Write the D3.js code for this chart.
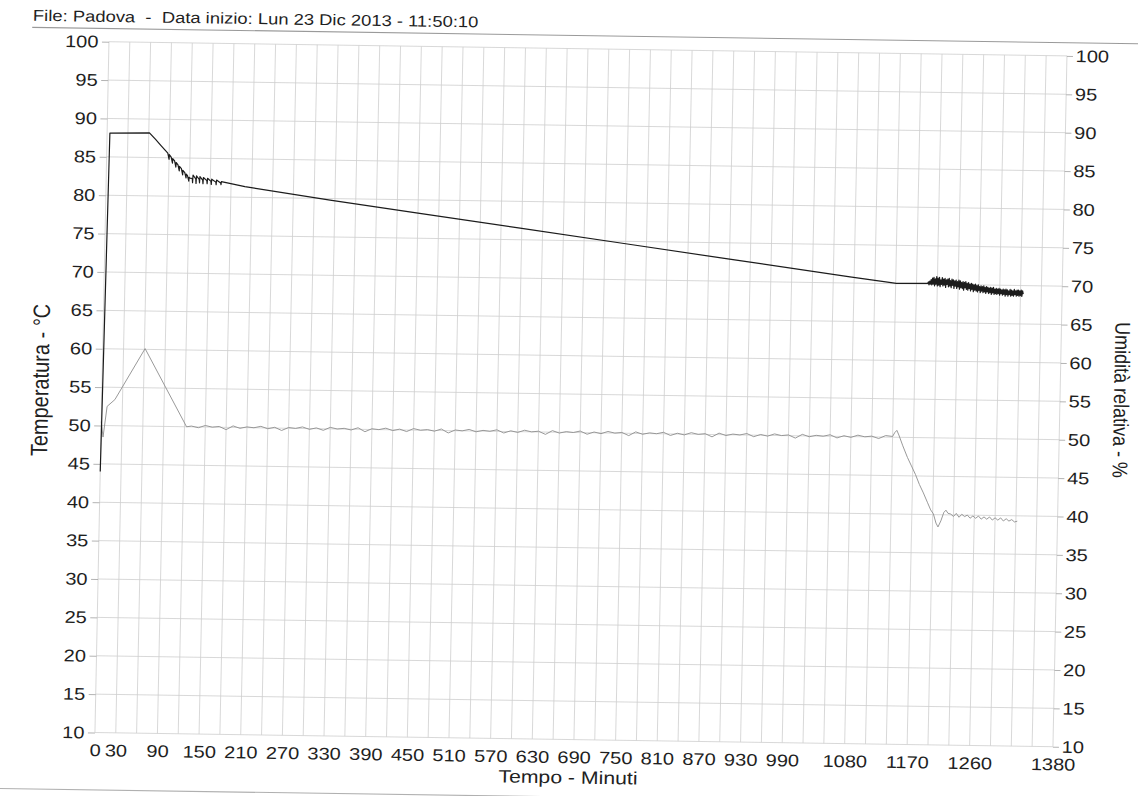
<!DOCTYPE html>
<html>
<head>
<meta charset="utf-8">
<script src="https://cdn.jsdelivr.net/npm/d3@7"></script>
<style>
  body { margin: 0; background: #ffffff; }
  svg { display: block; }
  text { font-family: "Liberation Sans", Arial, Helvetica, sans-serif; fill: #1f1f1f; }
</style>
</head>
<body>
<svg id="chart" width="1138" height="796"></svg>
<script>
// ---- Logger data: Padova, 23 Dec 2013 ----
const chartTitle = "File: Padova  -  Data inizio: Lun 23 Dic 2013 - 11:50:10";
const xTitle = "Tempo - Minuti";
const yLeftTitle = "Temperatura - °C";
const yRightTitle = "Umidità relativa - %";

const xTickValues = [0, 30, 90, 150, 210, 270, 330, 390, 450, 510, 570, 630, 690, 750, 810, 870, 930, 990, 1080, 1170, 1260, 1380];
const yTickValues = [10, 15, 20, 25, 30, 35, 40, 45, 50, 55, 60, 65, 70, 75, 80, 85, 90, 95, 100];

// Temperature (°C): start-up, plateau, cooling ramp and long decline
const tempMinutes = [0, 4, 61, 70, 78, 84, 88, 90, 90.2, 93, 95, 95.2, 98, 100, 100.2, 103, 105, 105.2, 108, 110, 110.2, 113, 115, 115.2, 117, 119, 119.2, 120.5,
  124, 124.5, 125, 129, 129.5, 130, 134, 134.5, 135, 139, 139.5, 140, 145, 145.5, 146, 151, 151.5, 152, 158, 158.5, 159, 165, 165.5, 166,
  200, 323, 450, 600, 750, 900, 1074, 1141, 1185];
const tempValues = [44.0, 88.1, 88.2, 87.37, 86.58, 85.99, 85.6, 84.8, 85.4, 85.1, 84.3, 84.9, 84.6, 83.8, 84.4, 84.1, 83.3, 83.9, 83.6, 82.8, 83.4, 83.1, 82.4, 82.9, 82.7, 82.0, 82.5, 82.4,
  82.35, 81.8, 82.8, 82.29, 81.7, 82.7, 82.23, 81.8, 82.6, 82.16, 81.7, 82.5, 82.09, 81.7, 82.4, 82.01, 81.6, 82.3, 81.92, 81.6, 82.2, 81.83, 81.6, 82.0,
  81.38, 79.8, 78.28, 76.48, 74.68, 72.88, 70.8, 70.05, 70.1];

// Temperature, unsettled end segment: one reading per minute from minute 1186
const tempTailStart = 1186;
const tempTailStep = 1;
const tempTailValues = [
  70.1, 70.3, 69.9, 70.4, 70.0, 70.6, 69.9, 70.8, 70.0, 70.9,
  69.8, 70.7, 70.0, 71.0, 69.8, 70.8, 69.9, 70.9, 69.7, 70.6,
  70.0, 70.9, 69.8, 70.7, 69.9, 70.8, 69.6, 70.6, 70.0, 70.7,
  69.7, 70.8, 69.8, 70.5, 69.6, 70.7, 69.9, 70.6, 69.5, 70.5,
  69.8, 70.6, 69.5, 70.4, 69.7, 70.6, 69.4, 70.5, 69.6, 70.3,
  69.5, 70.4, 69.3, 70.3, 69.6, 70.4, 69.4, 70.2, 69.3, 70.3,
  69.5, 70.1, 69.2, 70.2, 69.4, 70.1, 69.1, 70.0, 69.3, 70.1,
  69.2, 69.9, 69.1, 70.0, 69.3, 69.8, 69.0, 69.9, 69.2, 69.8,
  69.0, 69.9, 69.1, 69.7, 68.9, 69.8, 69.1, 69.7, 68.9, 69.6,
  69.0, 69.7, 68.8, 69.6, 69.0, 69.7, 68.8, 69.5, 68.9, 69.6,
  68.8, 69.5, 68.9, 69.6, 68.7, 69.5, 68.9, 69.4, 68.7, 69.5,
  68.8, 69.4, 68.6, 69.5, 68.8, 69.4, 68.6, 69.3, 68.8, 69.5,
  68.6, 69.4, 68.7, 69.3, 68.6, 69.5, 68.8, 69.3, 68.6, 69.4,
  68.7, 69.4, 68.6, 69.3, 68.7, 69.4, 68.6, 69.3, 68.9];

// Relative humidity (%): start-up and peak
const humStartMinutes = [0, 3, 8, 19, 61, 123];
const humStartValues = [50.5, 48.5, 52.5, 53.4, 60.1, 50.0];

// Relative humidity, steady phase: one reading every 10 minutes from minute 130
const humMidStart = 130;
const humMidStep = 10;
const humMidValues = [
  50.1, 49.9, 50.2, 50.0, 50.1, 49.7, 50.2, 49.9, 50.1, 50.0,
  50.2, 49.9, 50.1, 49.7, 50.1, 50.0, 50.2, 49.9, 50.1, 49.8,
  50.2, 50.0, 50.1, 49.9, 50.2, 49.7, 50.1, 50.0, 50.2, 49.9,
  50.1, 49.8, 50.2, 50.0, 50.1, 49.9, 50.2, 49.7, 50.1, 50.0,
  50.2, 49.9, 50.1, 50.0, 50.2, 49.8, 50.1, 49.9, 50.2, 50.0,
  50.1, 49.7, 50.2, 49.9, 50.1, 50.0, 50.2, 49.8, 50.1, 49.9,
  50.2, 50.0, 50.1, 49.7, 50.2, 49.9, 50.1, 50.0, 50.2, 49.8,
  50.1, 49.9, 50.2, 50.0, 50.1, 49.7, 50.2, 49.9, 50.1, 50.0,
  50.2, 49.8, 50.1, 49.9, 50.2, 50.0, 50.1, 49.7, 50.2, 49.9,
  50.1, 50.0, 50.2, 49.8, 50.1, 49.9, 50.2, 50.0, 50.1, 49.8,
  50.2, 50.1];

// Relative humidity: drying step and final phase
const humEndMinutes = [1143, 1146, 1149, 1155, 1162, 1168, 1174, 1180, 1186, 1192, 1197, 1201, 1205, 1208, 1212, 1216, 1219, 1222];
const humEndValues = [50.6, 50.9, 50.3, 48.9, 47.4, 46.3, 45.2, 43.9, 42.8, 41.6, 40.6, 40.1, 38.9, 38.4, 39.2, 40.3, 40.6, 40.2];
const humTailStart = 1226;
const humTailStep = 4;
const humTailValues = [40.1, 39.8, 40.2, 39.7, 40.1, 39.8, 40.0, 39.6, 39.9, 39.6, 39.9, 39.5, 39.8, 39.5, 39.8, 39.4, 39.7, 39.4, 39.7, 39.3, 39.6, 39.3, 39.5, 39.2, 39.3];

// ---- Build series ----
const tempSeries = tempMinutes.map((m, i) => [m, tempValues[i]])
  .concat(tempTailValues.map((v, i) => [tempTailStart + i * tempTailStep, v]));
const humSeries = humStartMinutes.map((m, i) => [m, humStartValues[i]])
  .concat(humMidValues.map((v, i) => [humMidStart + i * humMidStep, v]))
  .concat(humEndMinutes.map((m, i) => [m, humEndValues[i]]))
  .concat(humTailValues.map((v, i) => [humTailStart + i * humTailStep, v]));

// ---- Layout ----
const plot = { left: 102, top: 48.8, width: 958, height: 690.8 };
const plotRight = plot.left + plot.width;
const plotBottom = plot.top + plot.height;
const textStretch = 1.18;

const svg = d3.select("#chart");
svg.append("rect").attr("width", 1138).attr("height", 796).attr("fill", "#ffffff");

// the printed sheet sits slightly skewed on the page
const page = svg.append("g")
  .attr("transform", "translate(580,392) matrix(1,0.0148,-0.0203,1,0,0) translate(-580,-392)");

const x = d3.scaleLinear().domain([0, 1380]).range([plot.left, plotRight]);
const yTemp = d3.scaleLinear().domain([10, 100]).range([plotBottom, plot.top]);
const yHum = d3.scaleLinear().domain([10, 100]).range([plotBottom, plot.top]);

// Sheet header and border lines
page.append("line")
  .attr("x1", 25).attr("x2", 1180).attr("y1", 35.6).attr("y2", 35.6)
  .attr("stroke", "#9a9a9a").attr("stroke-width", 1.1);
page.append("line")
  .attr("x1", -20).attr("x2", 1180).attr("y1", 797).attr("y2", 797)
  .attr("stroke", "#b0b0b0").attr("stroke-width", 1.1);

page.append("text")
  .attr("transform", `translate(25.5,29) scale(${textStretch},1)`)
  .attr("font-size", 15.6)
  .style("white-space", "pre")
  .text(chartTitle);

// Grid
const grid = page.append("g").attr("stroke", "#cfcfcf").attr("stroke-width", 0.8);
grid.selectAll("line.v")
  .data(d3.range(0, 1381, 30))
  .join("line")
  .attr("class", "v")
  .attr("x1", d => x(d)).attr("x2", d => x(d))
  .attr("y1", plot.top).attr("y2", plotBottom);
grid.selectAll("line.h")
  .data(yTickValues)
  .join("line")
  .attr("class", "h")
  .attr("x1", plot.left).attr("x2", plotRight)
  .attr("y1", d => yTemp(d)).attr("y2", d => yTemp(d));

// Axes
function styleAxis(g) {
  g.select(".domain").remove();
  g.selectAll(".tick line").attr("stroke", "#a0a0a0").attr("stroke-width", 0.8);
  g.selectAll(".tick text").attr("fill", "#1f1f1f").attr("font-size", 17);
}

const leftAxis = page.append("g")
  .attr("transform", `translate(${plot.left},0)`)
  .call(d3.axisLeft(yTemp).tickValues(yTickValues).tickSize(7).tickPadding(3.5).tickFormat(d3.format("d")))
  .call(styleAxis);
leftAxis.selectAll(".tick text")
  .attr("x", -10.5 / textStretch)
  .attr("transform", `scale(${textStretch},1)`);

const rightAxis = page.append("g")
  .attr("transform", `translate(${plotRight},0)`)
  .call(d3.axisRight(yHum).tickValues(yTickValues).tickSize(6).tickPadding(2.7).tickFormat(d3.format("d")))
  .call(styleAxis);
rightAxis.selectAll(".tick text")
  .attr("x", 8.7 / textStretch)
  .attr("transform", `scale(${textStretch},1)`);

const bottomAxis = page.append("g")
  .attr("transform", `translate(0,${plotBottom})`)
  .call(d3.axisBottom(x).tickValues(xTickValues).tickSize(0).tickPadding(11.5).tickFormat(d3.format("d")))
  .call(styleAxis);
bottomAxis.selectAll(".tick text")
  .attr("transform", `scale(${textStretch},1)`);

// Axis titles
page.append("text")
  .attr("transform", `translate(575.8,783.5) scale(${textStretch},1)`)
  .attr("text-anchor", "middle")
  .attr("font-size", 18)
  .text(xTitle);

page.append("text")
  .attr("transform", `translate(48.5,388) scale(${textStretch},1) rotate(-90)`)
  .attr("text-anchor", "middle")
  .attr("font-size", 20)
  .text(yLeftTitle);

page.append("text")
  .attr("transform", `translate(1114,392) scale(${textStretch},1) rotate(90)`)
  .attr("text-anchor", "middle")
  .attr("font-size", 18)
  .text(yRightTitle);

// Series
const humLine = d3.line().x(d => x(d[0])).y(d => yHum(d[1]));
const tempLine = d3.line().x(d => x(d[0])).y(d => yTemp(d[1]));

page.append("path")
  .datum(humSeries)
  .attr("fill", "none")
  .attr("stroke", "#8e8e8e")
  .attr("stroke-width", 0.9)
  .attr("stroke-linejoin", "round")
  .attr("d", humLine);

page.append("path")
  .datum(tempSeries)
  .attr("fill", "none")
  .attr("stroke", "#1c1c1c")
  .attr("stroke-width", 1.2)
  .attr("stroke-linejoin", "round")
  .attr("d", tempLine);
</script>
</body>
</html>
